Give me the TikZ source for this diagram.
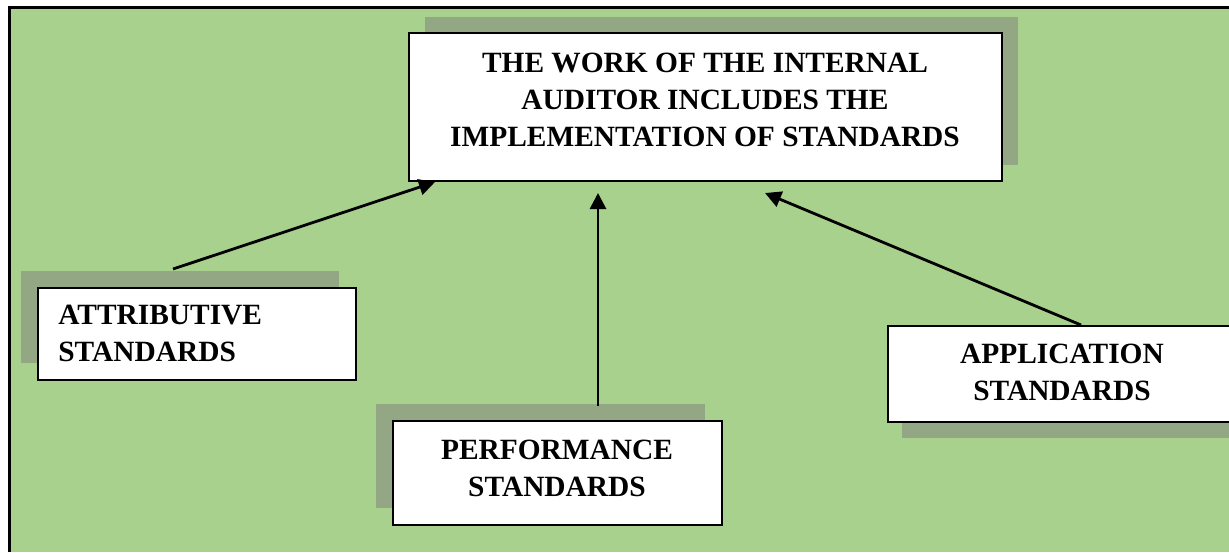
\documentclass[tikz,border=0pt]{standalone}
\usepackage{fontspec}
\setmainfont{Liberation Serif}
\usetikzlibrary{arrows.meta,calc,shadows}
\definecolor{bggreen}{HTML}{A9D18E}
\definecolor{shadegreen}{HTML}{94A784}

\begin{document}
\begin{tikzpicture}[
  x=0.5pt, y=-0.5pt,
  >={Triangle[length=8pt,width=8pt]},
  box/.style={draw=black,line width=1pt,fill=white,inner sep=0pt},
  shadow ul/.style={general shadow={fill=shadegreen,shadow xshift=-8.5pt,shadow yshift=8.5pt}},
  shadow ur/.style={general shadow={fill=shadegreen,shadow xshift=8pt,shadow yshift=8pt}},
  shadow dr/.style={general shadow={fill=shadegreen,shadow xshift=7pt,shadow yshift=-8pt}},
  boxtext/.style={font=\fontsize{14.7}{18.5}\selectfont\bfseries,inner sep=0pt},
  link/.style={->,line width=1.4pt}
]
  \useasboundingbox (0,0) rectangle (1229,552);
  \fill[white] (0,0) rectangle (1229,552);
  \fill[bggreen] (8,6) rectangle (1229,552);
  \draw[line width=1.5pt] (9,552) -- (9,7) -- (1229,7);

  % the four text boxes
  \node[box,shadow ur,minimum width=296.5pt,minimum height=74pt] (work) at (705.5,107) {};
  \node[box,shadow ul,minimum width=159pt,minimum height=46pt] (attr) at (197,334) {};
  \node[box,shadow ul,minimum width=164.5pt,minimum height=52pt] (perf) at (557.5,473) {};
  \node[box,shadow dr,minimum width=174pt,minimum height=48pt] (appl) at (1062,374) {};

  \node[boxtext,align=center] (work-t) at (705,100)
    {THE WORK OF THE INTERNAL\\AUDITOR INCLUDES THE\\IMPLEMENTATION OF STANDARDS};
  \node[boxtext,align=left,anchor=west] (attr-t) at (58,333) {ATTRIBUTIVE\\STANDARDS};
  \node[boxtext,align=center] (perf-t) at (557,468) {PERFORMANCE\\STANDARDS};
  \node[boxtext,align=center] (appl-t) at (1062,372) {APPLICATION\\STANDARDS};

  % arrows into the top box
  \draw[link] ($(attr.north)+(-24,-18)$) -- ($(work.south west)+(27,0)$);
  \draw[link] ($(perf.north)+(40.5,-14)$) -- ($(work.south)+(-107.5,11)$);
  \draw[link] ($(appl.north)+(19,0)$) -- ($(work.south)+(59.5,11)$);
\end{tikzpicture}
\end{document}
